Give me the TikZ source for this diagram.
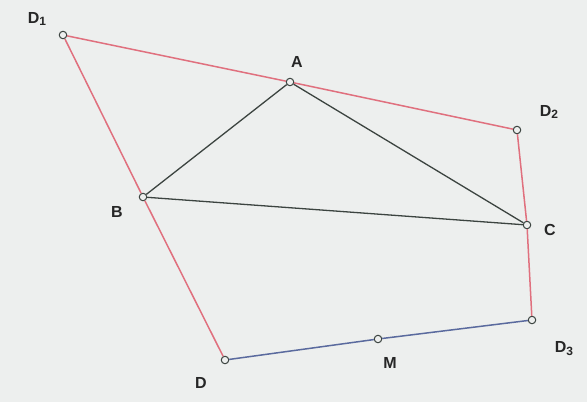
\documentclass[tikz,border=0pt]{standalone}
\usepackage{fontspec}
\setmainfont{Liberation Sans}
\usetikzlibrary{positioning}

\definecolor{bgcol}{HTML}{EDEFEE}
\definecolor{redline}{HTML}{E0707E}
\definecolor{blueline}{HTML}{5A6A9E}
\definecolor{darkline}{HTML}{3C4440}

\newcommand{\subidx}[1]{\raisebox{-0.35ex}{\fontsize{12}{12}\selectfont #1}}

\begin{document}
\begin{tikzpicture}[x=1pt, y=-1pt,
            pt/.style={draw=darkline, fill=bgcol, circle, inner sep=0pt, minimum size=7.5pt, line width=1pt},
            lbl/.style={font=\bfseries\fontsize{16}{16}\selectfont, text=black!85},
            red/.style={draw=redline, line width=1.5pt},
            blue/.style={draw=blueline, line width=1.5pt},
            tri/.style={draw=darkline, line width=1.3pt}]

            \fill[bgcol] (0,0) rectangle (587,402);
            \useasboundingbox (0,0) rectangle (587,402);

            % ===== points =====
            \node[pt] (D1) at (63,35) {};
            \node[pt] (A) at (290,82) {};
            \node[pt] (D2) at (517,130) {};
            \node[pt] (B) at (143,197) {};
            \node[pt] (C) at (527,225) {};
            \node[pt] (D3) at (532,320) {};
            \node[pt] (D) at (225,360) {};
            \node[pt] (M) at (378,339) {};

            % ===== labels =====
            \node[lbl] (lD1) at (37,19) {D\subidx{1}};
            \node[lbl] (lA) at (297,62) {A};
            \node[lbl] (lD2) at (549,112) {D\subidx{2}};
            \node[lbl] (lB) at (117,212) {B};
            \node[lbl] (lC) at (550,230) {C};
            \node[lbl] (lD3) at (564,349) {D\subidx{3}};
            \node[lbl] (lD) at (201,383) {D};
            \node[lbl] (lM) at (390,363) {M};

            % ===== outer quadrilateral =====
            \draw[red] (D1) -- (A);
            \draw[red] (A) -- (D2);
            \draw[red] (D2) -- (C);
            \draw[red] (C) -- (D3);
            \draw[red] (D1) -- (B);
            \draw[red] (B) -- (D);
            \draw[blue] (D) -- (M);
            \draw[blue] (M) -- (D3);

            % ===== triangle ABC =====
            \draw[tri] (A) -- (B);
            \draw[tri] (B) -- (C);
            \draw[tri] (A) -- (C);
        \end{tikzpicture}
\end{document}
